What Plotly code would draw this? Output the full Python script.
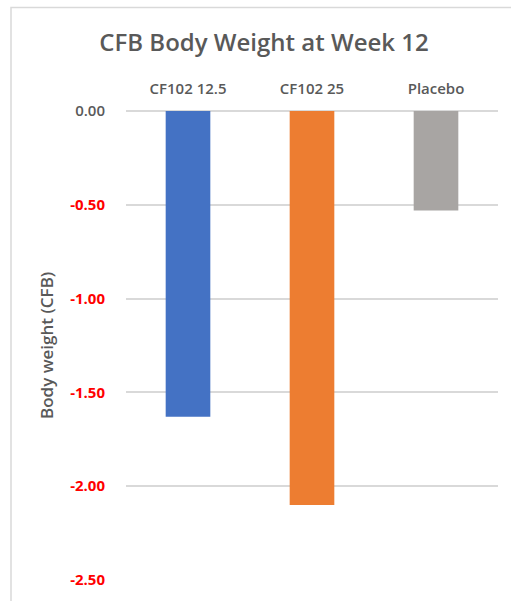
import plotly.graph_objects as go

categories = ["CF102 12.5", "CF102 25", "Placebo"]
values = [-1.63, -2.10, -0.53]
bar_colors = ["#4472C4", "#ED7D31", "#A8A5A3"]
tick_vals = [0.0, -0.5, -1.0, -1.5, -2.0, -2.5]
tick_labels = ["0.00", "-0.50", "-1.00", "-1.50", "-2.00", "-2.50"]

tick_text = []
for v, t in zip(tick_vals, tick_labels):
    if v < 0:
        tick_text.append(f"<span style='color:#FF0000'><b>{t}</b></span>")
    else:
        tick_text.append(t)

W, H = 511, 601
L, R, T, B = 126, 13, 111, 19
pw = W - L - R
ph = H - T - B

fig = go.Figure(
    go.Bar(
        x=categories,
        y=values,
        marker=dict(color=bar_colors, line=dict(width=0)),
        width=0.36,
    )
)

fig.update_layout(
    width=W,
    height=H,
    margin=dict(l=L, r=R, t=T, b=B, pad=0),
    paper_bgcolor="white",
    plot_bgcolor="white",
    showlegend=False,
    font=dict(family="Open Sans", color="#595959"),
    title=dict(
        text="CFB Body Weight at Week 12",
        font=dict(size=24, color="#595959", family="Open Sans", weight=600),
        xref="container",
        yref="container",
        x=264 / W,
        y=1 - 43 / H,
        xanchor="center",
        yanchor="middle",
    ),
    xaxis=dict(
        side="top",
        showgrid=False,
        showline=False,
        zeroline=False,
        ticks="",
        ticklabelstandoff=13,
        tickfont=dict(size=15, color="#595959", family="Open Sans", weight=600),
    ),
    yaxis=dict(
        range=[-2.5, 0],
        tickvals=tick_vals,
        ticktext=tick_text,
        showgrid=True,
        gridcolor="#D9D9D9",
        gridwidth=1.5,
        zeroline=True,
        zerolinecolor="#D9D9D9",
        zerolinewidth=1.5,
        showline=False,
        ticks="",
        ticklabelstandoff=20,
        tickfont=dict(size=15, color="#595959", family="Open Sans", weight=600),
    ),
    annotations=[
        dict(
            text="Body weight (CFB)",
            textangle=-90,
            xref="paper",
            yref="paper",
            x=(47 - L) / pw,
            y=(H - B - 347) / ph,
            xanchor="center",
            yanchor="middle",
            showarrow=False,
            font=dict(size=17, color="#595959", family="Open Sans", weight=600),
        )
    ],
    shapes=[
        dict(
            type="rect",
            xref="paper",
            yref="paper",
            x0=(11 - L) / pw,
            x1=(W + 5 - L) / pw,
            y0=-(B + 5) / ph,
            y1=(H - B - 7) / ph,
            line=dict(color="#D9D9D9", width=1.5),
            fillcolor="rgba(0,0,0,0)",
            layer="below",
        )
    ],
)

fig.write_html("out.html")
